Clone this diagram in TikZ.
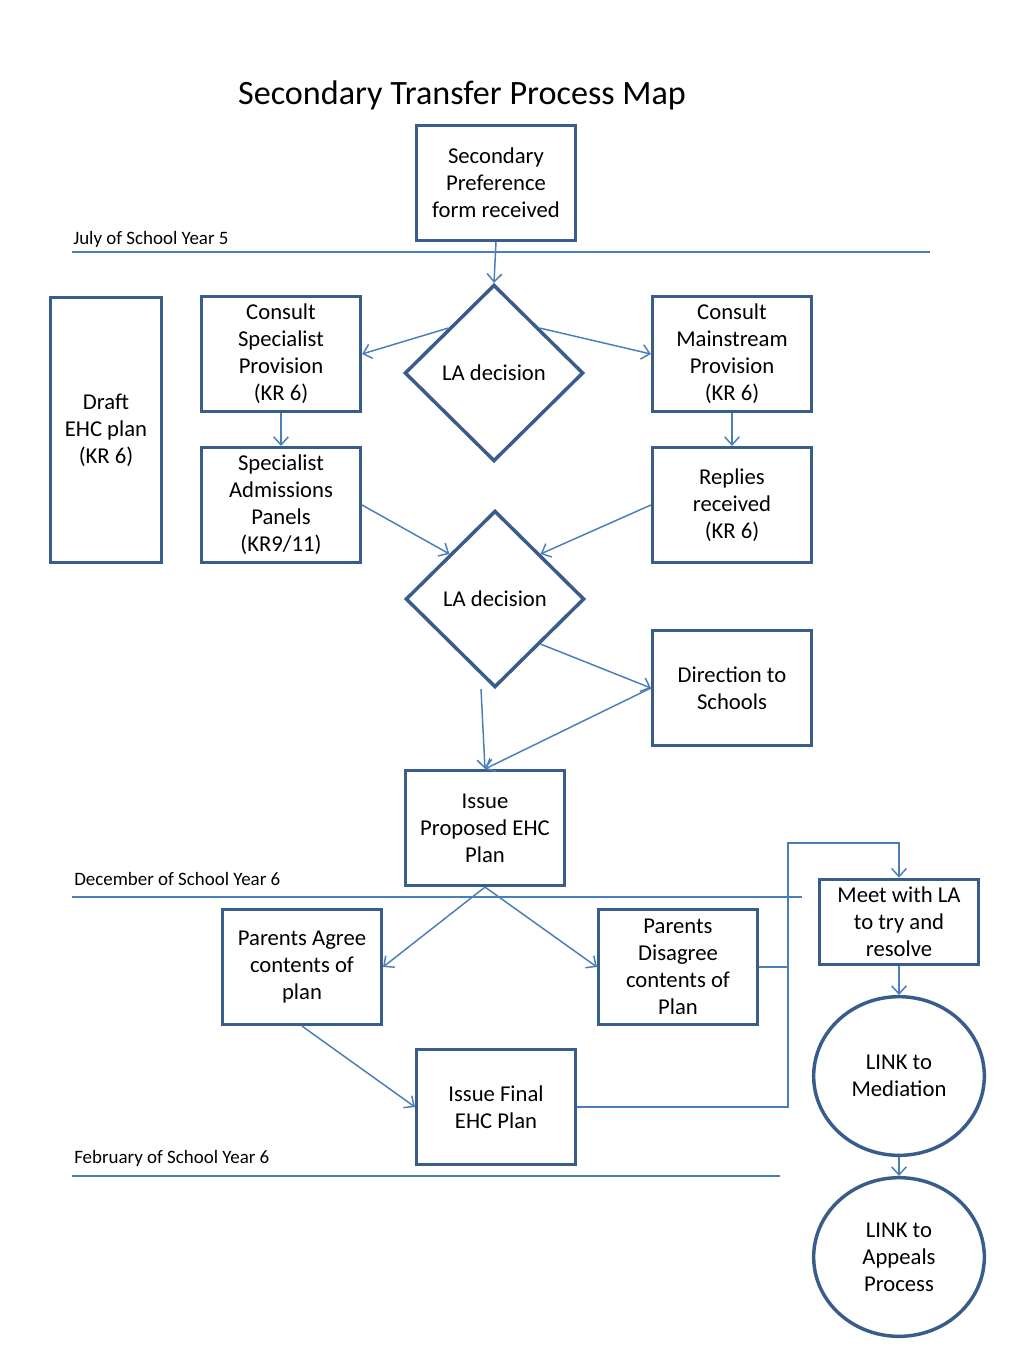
\documentclass[tikz,border=0pt]{standalone}
\usepackage{fontspec}
\setmainfont{Carlito}
\usetikzlibrary{shapes.geometric,arrows.meta}
\definecolor{boxc}{RGB}{56,93,138}
\definecolor{linec}{RGB}{74,126,187}
\begin{document}
\begin{tikzpicture}[x=0.75pt,y=-0.75pt,
  body/.style={font=\fontsize{17}{20.25}\selectfont},
  box/.style={body,draw=boxc,line width=2.6pt,minimum width=119pt,minimum height=86pt,align=center,inner sep=2pt},
  dia/.style={body,draw=boxc,line width=2.6pt,shape=diamond,minimum width=134pt,minimum height=132.5pt,inner sep=0pt},
  circ/.style={body,draw=boxc,line width=2.6pt,shape=ellipse,minimum width=128pt,minimum height=119pt,align=center,inner sep=0pt},
  conn/.style={draw=linec,line width=1.1pt},
  arr/.style={conn,-{Straight Barb[length=6pt,width=11pt]}},
  rule/.style={draw=linec,line width=0.9pt},
  lab/.style={font=\fontsize{14.2}{16}\selectfont,anchor=west,inner sep=0pt}]
\useasboundingbox[fill=white] (0,0) rectangle (1024,1365);
% title
\node[font=\fontsize{25.6}{30}\selectfont] (title) at (462,95) {Secondary Transfer Process Map};
% timeline rules
\coordinate (r1a) at (72,252); \coordinate (r1b) at (930,252);
\coordinate (r2a) at (72,897); \coordinate (r2b) at (802,897);
\coordinate (r3a) at (72,1176); \coordinate (r3b) at (780,1176);
\draw[rule] (r1a) -- (r1b);
\draw[rule] (r2a) -- (r2b);
\draw[rule] (r3a) -- (r3b);
\node[lab] (l1) at (73,239) {July of School Year 5};
\node[lab] (l2) at (74,879) {December of School Year 6};
\node[lab] (l3) at (74,1158) {February of School Year 6};
% nodes
\node[box] (sp) at (496,183) {Secondary\\Preference\\form received};
\node[dia] (d1) at (494,373) {LA decision};
\node[box] (cs) at (281,354) {Consult\\Specialist\\Provision\\(KR 6)};
\node[box] (cm) at (732,354) {Consult\\Mainstream\\Provision\\(KR 6)};
\node[box,minimum width=83pt,minimum height=199pt] (draft) at (106,430) {Draft\\EHC plan\\(KR 6)};
\node[box] (sap) at (281,505) {Specialist\\Admissions\\Panels\\(KR9/11)};
\node[box] (rr) at (732,505) {Replies\\received\\(KR 6)};
\node[dia] (d2) at (495,599) {LA decision};
\node[box] (dts) at (732,688) {Direction to\\Schools};
\node[box] (ip) at (485,828) {Issue\\Proposed EHC\\Plan};
\node[box] (pa) at (302,967) {Parents Agree\\contents of\\plan};
\node[box] (pd) at (678,967) {Parents\\Disagree\\contents of\\Plan};
\node[box,minimum height=64pt] (meet) at (899,922) {Meet with LA\\to try and\\resolve};
\node[circ] (med) at (899,1076) {LINK to\\Mediation};
\node[box] (ifp) at (496,1107) {Issue Final\\EHC Plan};
\node[circ] (app) at (899,1257) {LINK to\\Appeals\\Process};
% connectors
\draw[arr] (sp.south) -- (d1.north);
\draw[arr] (d1.north west) -- (cs.east);
\draw[arr] (d1.north east) -- (cm.west);
\draw[arr] (cs.south) -- (sap.north);
\draw[arr] (cm.south) -- (rr.north);
\draw[arr] (sap.east) -- (d2.north west);
\draw[arr] (rr.west) -- (d2.north east);
\draw[arr] (d2.south east) -- (dts.west);
\draw[arr] ([xshift=-10.5pt]d2.south) -- (ip.north);
\draw[arr] (dts.west) -- (ip.north);
\draw[arr] (ip.south) -- (pa.east);
\draw[arr] (ip.south) -- (pd.west);
\draw[arr] (pa.south) -- (ifp.west);
\coordinate (j1) at (788,967);
\coordinate (j2) at (788,843);
\draw[arr] (pd.east) -| (j2) -| (meet.north);
\draw[conn] (ifp.east) -| (j1);
\draw[arr] (meet.south) -- (med.north);
\draw[arr] (med.south) -- (app.north);
\end{tikzpicture}
\end{document}
